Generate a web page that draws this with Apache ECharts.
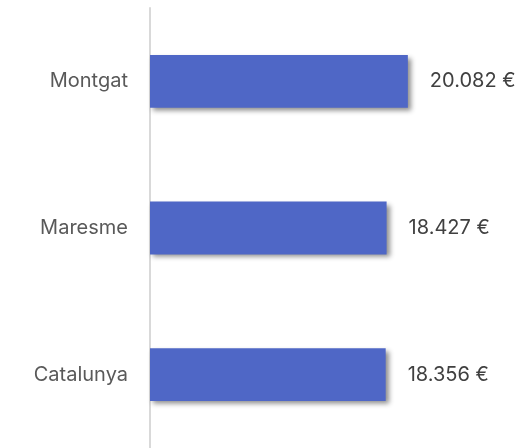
<!DOCTYPE html>
<html>
<head>
<meta charset="utf-8">
<script src="https://cdn.jsdelivr.net/npm/echarts@6/dist/echarts.min.js"></script>
<style>
  html, body { margin: 0; padding: 0; background: #fff; }
  #chart { width: 523px; height: 448px; }
</style>
</head>
<body>
<div id="chart"></div>
<script>
// data, top to bottom
const categories = ['Montgat', 'Maresme', 'Catalunya']
const values = [20082, 18427, 18356]

function euro(v) {
    return String(v).replace(/\B(?=(\d{3})+(?!\d))/g, '.') + ' €'
}

const chart = echarts.init(document.getElementById('chart'))
chart.setOption({
    animation: false,
    grid: { left: 150, top: 8, width: 321, bottom: 0 },
    xAxis: {
        type: 'value',
        min: 0,
        max: 25000,
        show: false
    },
    yAxis: {
        type: 'category',
        data: categories.slice().reverse(),
        axisLine: { show: true, lineStyle: { color: '#d9d9d9', width: 2 } },
        axisTick: { show: false },
        axisLabel: {
            margin: 22,
            color: '#595959',
            fontSize: 20,
            fontFamily: 'Inter'
        }
    },
    series: [{
        type: 'bar',
        data: values.slice().reverse(),
        barWidth: '36%',
        itemStyle: {
            color: '#4f67c6',
            shadowColor: 'rgba(0,0,0,0.45)',
            shadowBlur: 5,
            shadowOffsetX: 3,
            shadowOffsetY: 3
        },
        label: {
            show: true,
            position: 'right',
            distance: 22,
            color: '#404040',
            fontSize: 20,
            fontFamily: 'Inter',
            formatter: p => euro(p.value)
        }
    }]
})
</script>
</body>
</html>
